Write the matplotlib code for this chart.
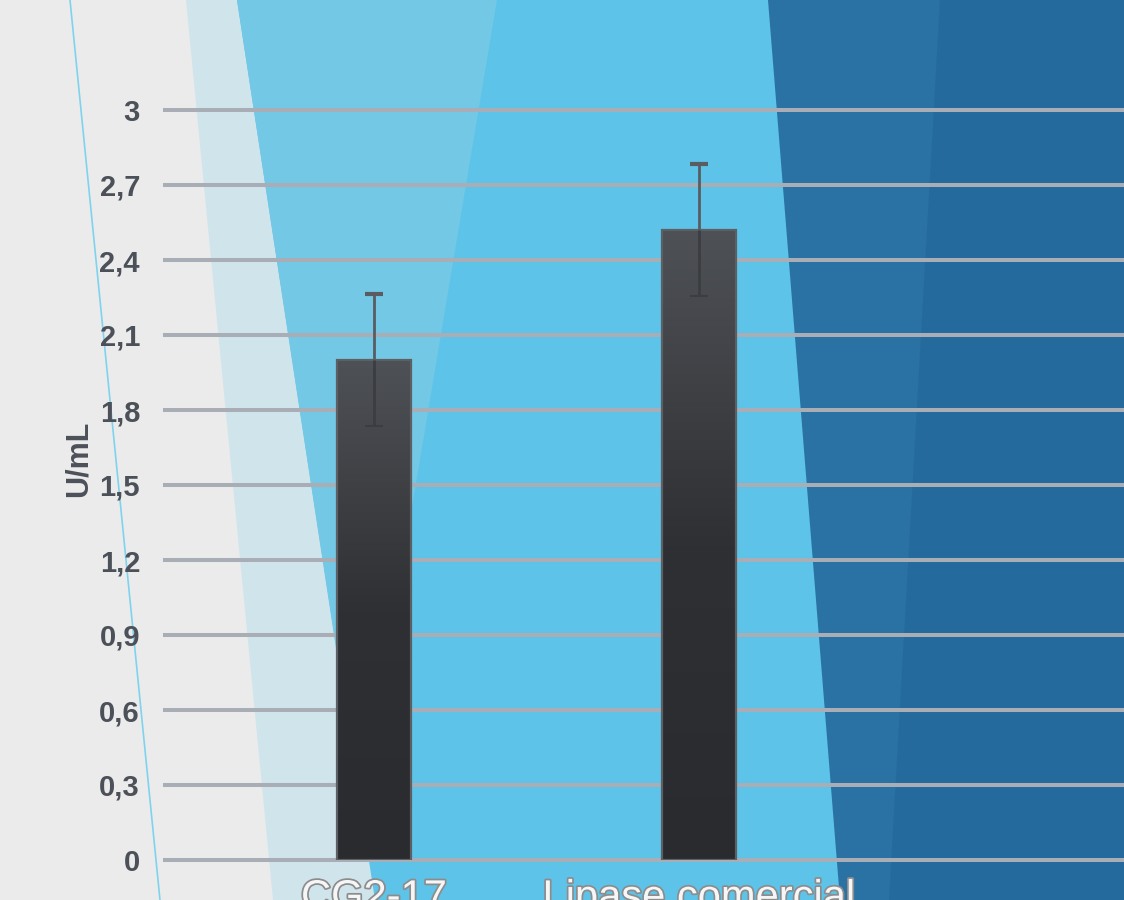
import numpy as np
import matplotlib
matplotlib.use("Agg")
import matplotlib.pyplot as plt
from matplotlib.patches import Polygon
from matplotlib.lines import Line2D
import matplotlib.patheffects as pe

categories = ["CG2-17", "Lipase comercial"]
means = [2.0, 2.52]
errors = [0.265, 0.265]
yticks = [0, 0.3, 0.6, 0.9, 1.2, 1.5, 1.8, 2.1, 2.4, 2.7, 3]
ytick_labels = ["0", "0,3", "0,6", "0,9", "1,2", "1,5", "1,8", "2,1", "2,4", "2,7", "3"]

W, H = 1124, 900
FONT = ["Liberation Sans", "DejaVu Sans"]

fig = plt.figure(figsize=(W / 100, H / 100), dpi=100, facecolor="#ebebeb")


def px(points):
    # pixel coords (y down) -> figure fraction
    return [(x / W, 1 - y / H) for x, y in points]


# decorative background bands
bands = [
    ([(186, 0), (W, 0), (W, H), (273, H)], "#d0e4ec"),
    ([(237, 0), (W, 0), (W, H), (375, H)], "#5dc3e8"),
    ([(237, 0), (497, 0), (361, 812)], "#73c8e6"),
    ([(768, 0), (W, 0), (W, H), (840, H)], "#2a72a3"),
    ([(940, 0), (W, 0), (W, H), (889, H)], "#256a9c"),
]
for pts, col in bands:
    fig.add_artist(Polygon(px(pts), closed=True, transform=fig.transFigure,
                           facecolor=col, edgecolor="none", zorder=-10))
fig.add_artist(Line2D([70 / W, 160 / W], [1.0, 0.0], transform=fig.transFigure,
                      color="#7fd3ee", lw=1.2, zorder=-9))

ax = fig.add_axes([165 / W, 40 / H, (W - 165) / W, 750 / H])
ax.set_facecolor("none")

for y in yticks:
    ax.axhline(y, color="#a9adb5", lw=2.9, zorder=1, clip_on=False)

x = np.arange(len(categories))
bars = ax.bar(x, means, width=0.228, color="none", edgecolor="#5c5f64",
              lw=1.6, zorder=3)

grad = np.linspace(0, 1, 256).reshape(-1, 1)
cmap = matplotlib.colors.LinearSegmentedColormap.from_list(
    "bar", ["#2a2b2e", "#2f3033", "#4e5156"])
for b in bars:
    x0, y0 = b.get_x(), b.get_y()
    im = ax.imshow(grad, extent=[x0, x0 + b.get_width(), y0, y0 + b.get_height()],
                   origin="lower", aspect="auto", cmap=cmap, zorder=2.5)
    im.set_clip_path(b)
ax.set_xlim(-0.644, 2.311)
ax.set_ylim(0, 3)

# upper half of the error bar (visible), lower half darker inside the bar
zeros = [0] * len(errors)
_, caps_up, _ = ax.errorbar(x, means, yerr=[zeros, errors], fmt="none",
                            ecolor="#595c61", elinewidth=2.0, capsize=6.5,
                            capthick=3, zorder=4)
caps_up[0].set_visible(False)
_, caps_lo, _ = ax.errorbar(x, means, yerr=[errors, zeros], fmt="none",
                            ecolor="#3b3d41", elinewidth=2.0, capsize=6.5,
                            capthick=1.5, zorder=4)
caps_lo[1].set_visible(False)

ax.set_yticks(yticks)
ax.set_yticklabels(ytick_labels, family=FONT, fontweight="bold",
                   fontsize=21, color="#4b5059")
ax.set_xticks(x)
ax.set_xticklabels(categories, family=FONT, fontsize=30, color="#f6f6f6")
for t in ax.get_xticklabels():
    t.set_path_effects([pe.withStroke(linewidth=2.5, foreground="#8c8c8c")])
ax.tick_params(axis="y", length=0, pad=18)
ax.tick_params(axis="x", length=0, pad=13)

ax.set_ylabel("U/mL", family=FONT, fontweight="bold", fontsize=22,
              color="#4b5059")
ax.yaxis.set_label_coords(-0.074, 0.535)

for s in ax.spines.values():
    s.set_visible(False)

fig.savefig("out.png", dpi=100, facecolor=fig.get_facecolor())
